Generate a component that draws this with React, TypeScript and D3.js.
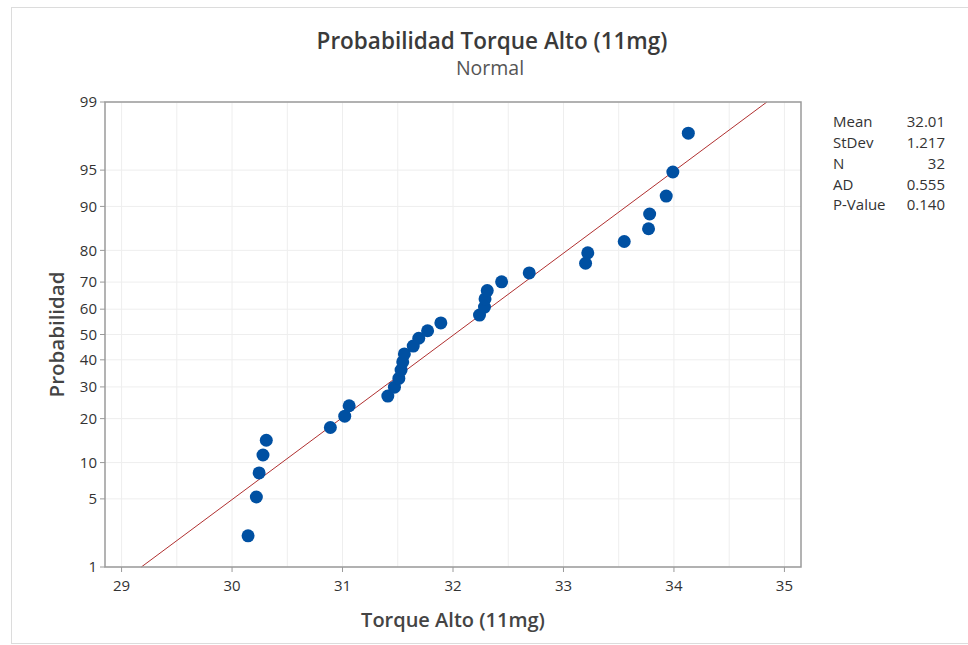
import * as d3 from "d3";

// sorted observations of Torque Alto (11mg)
const torque = [
  30.145, 30.22, 30.245, 30.28, 30.31, 30.89, 31.02, 31.06, 31.41, 31.47,
  31.51, 31.53, 31.545, 31.56, 31.64, 31.69, 31.77, 31.89, 32.24, 32.285,
  32.29, 32.31, 32.44, 32.69, 33.2, 33.22, 33.55, 33.77, 33.78, 33.93,
  33.99, 34.13,
];
// plotted probability (%) of each observation
const prob = [
  2.2, 5.2, 8.3, 11.4, 14.5, 17.6, 20.7, 23.8, 26.9, 29.9, 33.0, 36.1, 39.2,
  42.3, 45.4, 48.5, 51.5, 54.6, 57.7, 60.8, 63.9, 67.0, 70.1, 73.1, 76.2,
  79.3, 82.4, 85.5, 88.6, 91.7, 94.8, 97.8,
];
const yTicks = [1, 5, 10, 20, 30, 40, 50, 60, 70, 80, 90, 95, 99];
const xTicks = [29, 30, 31, 32, 33, 34, 35];
const xGrid = [29, 29.5, 30, 30.5, 31, 31.5, 32, 32.5, 33, 33.5, 34, 34.5, 35];
const statLabels = ["Mean", "StDev", "N", "AD", "P-Value"];
const statValues = ["32.01", "1.217", "32", "0.555", "0.140"];
const mean = 32.01;
const stdev = 1.217;

// inverse standard normal cdf (Acklam)
function qnorm(p: number): number {
  const a = [-39.6968302866538, 220.946098424521, -275.928510446969, 138.357751867269, -30.6647980661472, 2.50662827745924];
  const b = [-54.4760987982241, 161.585836858041, -155.698979859887, 66.8013118877197, -13.2806815528857];
  const c = [-0.00778489400243029, -0.322396458041136, -2.40075827716184, -2.54973253934373, 4.37466414146497, 2.93816398269878];
  const d = [0.00778469570904146, 0.32246712907004, 2.445134137143, 3.75440866190742];
  const pl = 0.02425;
  if (p < pl) {
    const q = Math.sqrt(-2 * Math.log(p));
    return (((((c[0] * q + c[1]) * q + c[2]) * q + c[3]) * q + c[4]) * q + c[5]) /
      ((((d[0] * q + d[1]) * q + d[2]) * q + d[3]) * q + 1);
  }
  if (p > 1 - pl) return -qnorm(1 - p);
  const q = p - 0.5;
  const r = q * q;
  return ((((((a[0] * r + a[1]) * r + a[2]) * r + a[3]) * r + a[4]) * r + a[5]) * q) /
    (((((b[0] * r + b[1]) * r + b[2]) * r + b[3]) * r + b[4]) * r + 1);
}

const W = 968;
const H = 645;
const left = 105;
const right = 801;
const top = 102;
const bottom = 567;
const font = "'Open Sans', 'Noto Sans', sans-serif";

export default function App() {
  const x = d3.scaleLinear().domain([28.85, 35.15]).range([left, right]);
  const z = d3.scaleLinear().domain([qnorm(0.01), qnorm(0.99)]).range([bottom, top]);
  const y = (p: number) => z(qnorm(p / 100));

  const zLo = qnorm(0.01);
  const zHi = qnorm(0.99);
  const fit = d3.line<number>()
    .x((q) => x(mean + q * stdev))
    .y((q) => z(q))([zLo, zHi]);

  return (
    <svg
      width={W}
      height={H}
      style={{ position: "absolute", left: 0, top: 0, background: "#fff" }}
      fontFamily={font}
    >
      <rect x={11.5} y={7.5} width={W} height={636} fill="none" stroke="#dcdcdc" />

      {/* grid */}
      <g stroke="#eeeeee" strokeWidth={1}>
        {xGrid.map((v) => (
          <line key={v} x1={x(v)} x2={x(v)} y1={top} y2={bottom} />
        ))}
        {yTicks.map((p) => (
          <line key={p} x1={left} x2={right} y1={y(p)} y2={y(p)} />
        ))}
      </g>

      <path d={fit ?? ""} stroke="#b03030" strokeWidth={1} fill="none" />

      <g fill="#0050a2">
        {torque.map((v, i) => (
          <circle key={i} cx={x(v)} cy={y(prob[i])} r={6.5} />
        ))}
      </g>

      <rect x={left} y={top} width={right - left} height={bottom - top} fill="none" stroke="#9a9a9a" strokeWidth={1.5} />

      {/* y axis */}
      <g>
        {yTicks.map((p) => (
          <g key={p} transform={`translate(${left},${y(p)})`}>
            <line x1={-5} x2={0} stroke="#9a9a9a" />
            <text x={-8} dy="0.35em" textAnchor="end" fontSize={15} fill="#333">{p}</text>
          </g>
        ))}
      </g>
      {/* x axis */}
      <g>
        {xTicks.map((v) => (
          <g key={v} transform={`translate(${x(v)},${bottom})`}>
            <line y1={0} y2={5} stroke="#9a9a9a" />
            <text y={19} dy="0.35em" textAnchor="middle" fontSize={15} fill="#333">{v}</text>
          </g>
        ))}
      </g>

      <text x={492} y={41} dy="0.35em" textAnchor="middle" fontSize={22.5} fontWeight={600} fill="#3a3a3a">
        Probabilidad Torque Alto (11mg)
      </text>
      <text x={490} y={68} dy="0.35em" textAnchor="middle" fontSize={19.5} fill="#555">
        Normal
      </text>
      <text x={453} y={620} dy="0.35em" textAnchor="middle" fontSize={20} fontWeight={600} fill="#444">
        Torque Alto (11mg)
      </text>
      <text
        transform={`translate(57,${(top + bottom) / 2}) rotate(-90)`}
        dy="0.35em"
        textAnchor="middle"
        fontSize={20.5}
        fontWeight={600}
        fill="#444"
      >
        Probabilidad
      </text>

      {/* stats box */}
      <g fontSize={15} fill="#333">
        {statLabels.map((s, i) => (
          <g key={s}>
            <text x={833} y={122 + i * 20.8} dy="0.35em">{s}</text>
            <text x={945} y={122 + i * 20.8} dy="0.35em" textAnchor="end">{statValues[i]}</text>
          </g>
        ))}
      </g>
    </svg>
  );
}
